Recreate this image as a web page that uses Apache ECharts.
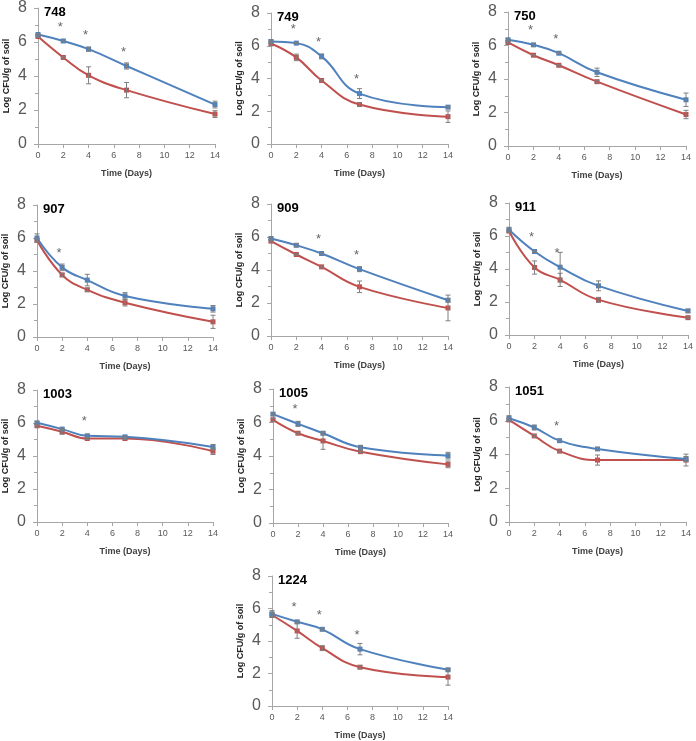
<!DOCTYPE html>
<html><head><meta charset="utf-8">
<script src="https://cdn.jsdelivr.net/npm/echarts@6/dist/echarts.min.js"></script>
<style>html,body{margin:0;padding:0;background:#fff}#c{width:696px;height:741px}</style>
</head><body><div id="c"></div>
<script>
// ---- data ----
const days = [0, 2, 4, 7, 14];
const strains = ['748', '749', '750', '907', '909', '911', '1003', '1005', '1051', '1224'];
const xAxisTitle = 'Time (Days)';
const yAxisTitle = 'Log CFU/g of soil';

const blue748 = [6.44, 6.06, 5.58, 4.59, 2.32];
const blueErr748 = [0.05, 0.05, 0.12, 0.18, 0.2];
const red748 = [6.32, 5.09, 4.04, 3.17, 1.76];
const redErr748 = [0.05, 0.06, 0.5, 0.45, 0.2];
const stars748 = [2, 4, 7];

const blue749 = [6.26, 6.16, 5.35, 3.08, 2.25];
const blueErr749 = [0.1, 0.04, 0.15, 0.3, 0.05];
const red749 = [6.14, 5.29, 3.88, 2.41, 1.67];
const redErr749 = [0.15, 0.2, 0.05, 0.1, 0.35];
const stars749 = [2, 4, 7];

const blue750 = [6.34, 6.04, 5.54, 4.4, 2.76];
const blueErr750 = [0.08, 0.08, 0.05, 0.25, 0.4];
const red750 = [6.18, 5.42, 4.82, 3.84, 1.88];
const redErr750 = [0.08, 0.05, 0.05, 0.08, 0.25];
const stars750 = [2, 4];

const blue907 = [6.0, 4.22, 3.45, 2.49, 1.71];
const blueErr907 = [0.25, 0.2, 0.35, 0.2, 0.2];
const red907 = [5.86, 3.76, 2.86, 2.08, 0.92];
const redErr907 = [0.1, 0.1, 0.1, 0.2, 0.4];
const stars907 = [2];

const blue909 = [5.91, 5.5, 5.0, 4.05, 2.17];
const blueErr909 = [0.1, 0.1, 0.05, 0.15, 0.1];
const red909 = [5.75, 4.94, 4.19, 2.98, 1.7];
const redErr909 = [0.08, 0.05, 0.05, 0.35, 0.78];
const stars909 = [4, 7];

const blue911 = [6.38, 5.06, 4.11, 2.98, 1.46];
const blueErr911 = [0.15, 0.05, 0.9, 0.3, 0.1];
const red911 = [6.3, 4.09, 3.34, 2.13, 1.05];
const redErr911 = [0.08, 0.4, 0.4, 0.15, 0.05];
const stars911 = [2, 4];

const blue1003 = [6.01, 5.63, 5.22, 5.16, 4.55];
const blueErr1003 = [0.08, 0.06, 0.1, 0.06, 0.15];
const red1003 = [5.83, 5.47, 5.06, 5.06, 4.29];
const redErr1003 = [0.08, 0.15, 0.06, 0.06, 0.2];
const stars1003 = [4];

const blue1005 = [6.5, 5.92, 5.36, 4.52, 4.02];
const blueErr1005 = [0.08, 0.15, 0.1, 0.1, 0.2];
const red1005 = [6.16, 5.36, 4.9, 4.26, 3.5];
const redErr1005 = [0.1, 0.06, 0.5, 0.06, 0.2];
const stars1005 = [2];

const blue1051 = [6.15, 5.6, 4.82, 4.33, 3.73];
const blueErr1051 = [0.15, 0.15, 0.06, 0.08, 0.15];
const red1051 = [6.05, 5.1, 4.2, 3.67, 3.67];
const redErr1051 = [0.08, 0.08, 0.06, 0.3, 0.35];
const stars1051 = [4];

const blue1224 = [5.67, 5.18, 4.72, 3.5, 2.23];
const blueErr1224 = [0.2, 0.06, 0.08, 0.35, 0.06];
const red1224 = [5.6, 4.62, 3.56, 2.39, 1.78];
const redErr1224 = [0.15, 0.45, 0.15, 0.1, 0.5];
const stars1224 = [2, 4, 7];

const panelData = [
  [blue748, blueErr748, red748, redErr748, stars748],
  [blue749, blueErr749, red749, redErr749, stars749],
  [blue750, blueErr750, red750, redErr750, stars750],
  [blue907, blueErr907, red907, redErr907, stars907],
  [blue909, blueErr909, red909, redErr909, stars909],
  [blue911, blueErr911, red911, redErr911, stars911],
  [blue1003, blueErr1003, red1003, redErr1003, stars1003],
  [blue1005, blueErr1005, red1005, redErr1005, stars1005],
  [blue1051, blueErr1051, red1051, redErr1051, stars1051],
  [blue1224, blueErr1224, red1224, redErr1224, stars1224]
];

// ---- layout (pixel boxes of each plot area: x of day 0, x of day 14, y of 8, y of 0) ----
const boxes = [
  [38, 215, 8, 144], [271, 448, 13, 144], [508, 686, 12, 146],
  [37, 213, 205, 337], [271, 448, 204, 336], [509, 690, 203, 335],
  [37, 213, 390, 522], [273, 448, 389, 523], [509, 686, 387, 522],
  [272, 448, 576, 708]
];

const BLUE = '#4f81bd', RED = '#c0504d', AX = '#a6a6a6', TXT = '#595959', ERR = '#7f7f7f';
const FONT = 'Liberation Sans';

function errItem(params, api) {
  const x = api.value(0), y = api.value(1), e = api.value(2);
  const t = api.coord([x, y + e]);
  const b = api.coord([x, y - e]);
  const cap = 2.5;
  const st = { stroke: ERR, lineWidth: 1 };
  return {
    type: 'group',
    children: [
      { type: 'line', shape: { x1: t[0], y1: t[1], x2: b[0], y2: b[1] }, style: st },
      { type: 'line', shape: { x1: t[0] - cap, y1: t[1], x2: t[0] + cap, y2: t[1] }, style: st },
      { type: 'line', shape: { x1: b[0] - cap, y1: b[1], x2: b[0] + cap, y2: b[1] }, style: st }
    ]
  };
}

const grid = [], xAxis = [], yAxis = [], series = [], title = [];
boxes.forEach((bx, i) => {
  const [l, r, t, b] = bx;
  grid.push({ left: l, top: t, width: r - l, height: b - t });
  xAxis.push({
    type: 'value', gridIndex: i, min: 0, max: 14, interval: 2,
    name: xAxisTitle, nameLocation: 'middle', nameGap: 25,
    nameTextStyle: { fontFamily: FONT, fontSize: 9, fontWeight: 'bold', color: '#404040' },
    axisLine: { show: true, onZero: false, lineStyle: { color: AX, width: 1 } },
    axisTick: { show: true, length: 4, lineStyle: { color: AX } },
    axisLabel: { fontFamily: FONT, fontSize: 9, color: TXT, margin: 7 },
    splitLine: { show: false }
  });
  yAxis.push({
    type: 'value', gridIndex: i, min: 0, max: 8, interval: 2,
    name: yAxisTitle, nameLocation: 'middle', nameGap: 27, nameRotate: 90,
    nameTextStyle: { fontFamily: FONT, fontSize: 9, fontWeight: 'bold', color: '#262626' },
    axisLine: { show: true, lineStyle: { color: AX, width: 1 } },
    axisTick: { show: true, length: 4, lineStyle: { color: AX } },
    minorTick: { show: true, splitNumber: 2, length: 3, lineStyle: { color: AX } },
    axisLabel: { fontFamily: FONT, fontSize: 16, color: TXT, margin: 11 },
    splitLine: { show: false }, minorSplitLine: { show: false }
  });
  title.push({
    text: strains[i], left: l + 6, top: t - 2, padding: 0,
    textStyle: { fontFamily: FONT, fontSize: 13, fontWeight: 'bold', color: '#000' }
  });
  const [bl, ble, rd, rde, st] = panelData[i];
  const mk = (vals) => days.map((d, k) => [d, vals[k]]);
  const mkE = (vals, errs) => days.map((d, k) => [d, vals[k], errs[k]]);
  [[rd, RED], [bl, BLUE]].forEach(([vals, col]) => {
    series.push({
      type: 'line', xAxisIndex: i, yAxisIndex: i, data: mk(vals), smooth: 0.45,
      symbol: 'rect', symbolSize: 5, showSymbol: true,
      lineStyle: { color: col, width: 2 }, itemStyle: { color: col }, z: 3
    });
  });
  [[rd, rde], [bl, ble]].forEach(([vals, errs]) => {
    series.push({
      type: 'custom', xAxisIndex: i, yAxisIndex: i, data: mkE(vals, errs),
      renderItem: errItem, z: 4, silent: true
    });
  });
  series.push({
    type: 'scatter', xAxisIndex: i, yAxisIndex: i,
    data: st.map(d => [d, bl[days.indexOf(d)]]),
    symbolSize: 1, itemStyle: { color: 'rgba(0,0,0,0)' }, z: 5,
    label: { show: true, formatter: '*', position: 'inside', offset: [-3, -14],
      fontFamily: FONT, fontSize: 13, color: '#404040' }
  });
});

const chart = echarts.init(document.getElementById('c'), null, { renderer: 'canvas' });
chart.setOption({ animation: false, backgroundColor: '#fff', title, grid, xAxis, yAxis, series });
</script>
</body></html>
